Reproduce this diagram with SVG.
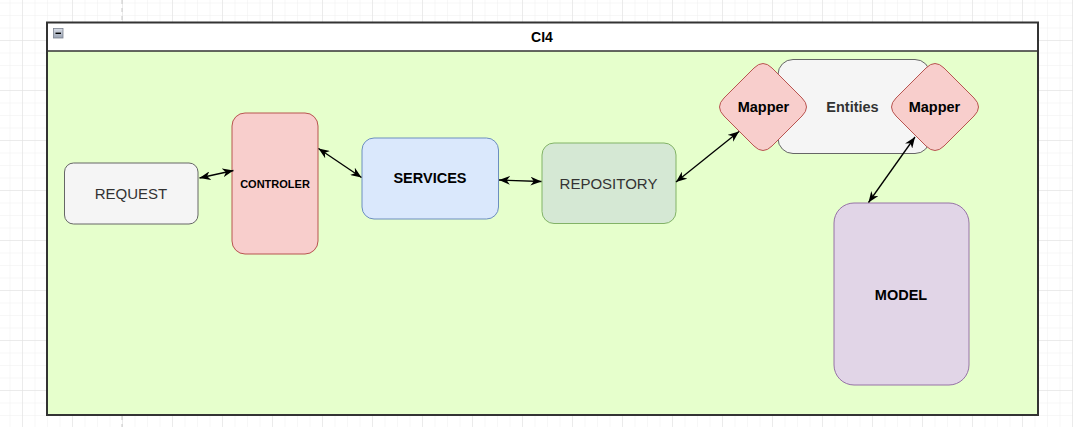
<svg xmlns="http://www.w3.org/2000/svg" width="1073" height="427" viewBox="0 0 1073 427">
<style>
text{font-family:"Liberation Sans",Arial,sans-serif;text-anchor:middle}
.b{font-weight:bold;font-size:14.5px;fill:#000}
.n{font-size:15px;fill:#333}
.edge{stroke:#000;stroke-width:1.3;fill:none;marker-start:url(#arr);marker-end:url(#arr)}
</style>
<defs>
<pattern id="minor" patternUnits="userSpaceOnUse" x="9.5" y="2.5" width="12.5" height="12.5">
<path d="M0,0 V12.5 M0,0 H12.5" stroke="#f0f0f0" stroke-width="1" fill="none"/>
</pattern>
<pattern id="major" patternUnits="userSpaceOnUse" x="22" y="40" width="50" height="50">
<path d="M0,0 V50 M0,0 H50" stroke="#e0e0e0" stroke-width="1" fill="none"/>
</pattern>
<linearGradient id="ic" x1="0" y1="0" x2="0" y2="1">
<stop offset="0" stop-color="#d8dde6"/><stop offset="1" stop-color="#9aa3b3"/>
</linearGradient>
<marker id="arr" viewBox="0 0 10 8" refX="10" refY="4" markerWidth="11" markerHeight="8.8" markerUnits="userSpaceOnUse" orient="auto-start-reverse">
<path d="M0,0 L10,4 L0,8 L3,4 Z" fill="#000"/>
</marker>
</defs>
<rect width="1073" height="427" fill="#fff"/>
<rect width="1073" height="427" fill="url(#minor)"/>
<rect width="1073" height="427" fill="url(#major)"/>
<line x1="122" y1="0" x2="122" y2="427" stroke="#c8c8c8" stroke-dasharray="4,4"/>

<g id="container">
<rect x="47" y="22.5" width="991" height="392.5" fill="#E6FFCC"/>
<rect x="47" y="22.5" width="991" height="28.5" fill="#fff"/>
<line x1="47" y1="51" x2="1038" y2="51" stroke="#333" stroke-width="1.5"/>
<rect x="47" y="22.5" width="991" height="392.5" fill="none" stroke="#333" stroke-width="2"/>
<rect x="53.5" y="28.5" width="9.5" height="9.5" fill="url(#ic)" stroke="#7a8290" stroke-width="0.8"/>
<line x1="55.5" y1="33.3" x2="61" y2="33.3" stroke="#000" stroke-width="1.4"/>
<text x="542" y="41.5" class="b" style="font-size:14px">CI4</text>
</g>

<g id="request">
<rect x="64.5" y="163" width="133.5" height="61" rx="9" fill="#f5f5f5" stroke="#666"/>
<text x="131" y="198.5" class="n">REQUEST</text>
</g>

<g id="controler">
<rect x="232" y="113" width="86" height="141" rx="13" fill="#f8cecc" stroke="#b85450"/>
<text x="275" y="188" style="font-weight:bold;font-size:11px;fill:#000">CONTROLER</text>
</g>

<g id="services">
<rect x="362" y="138" width="136.5" height="81" rx="12" fill="#dae8fc" stroke="#6c8ebf"/>
<text x="430" y="183" class="b">SERVICES</text>
</g>

<g id="repository">
<rect x="542" y="143" width="134" height="80.5" rx="12" fill="#d5e8d4" stroke="#82b366"/>
<text x="608.5" y="188.5" class="n">REPOSITORY</text>
</g>

<g id="entities">
<rect x="778" y="59.5" width="152" height="94" rx="15" fill="#f5f5f5" stroke="#666"/>
<text x="852.5" y="112" class="b" style="fill:#333">Entities</text>
</g>

<g id="mapper-left">
<path d="M754,68 Q763,59 772,68 L802,98 Q811,107 802,116 L772,146 Q763,155 754,146 L724,116 Q715,107 724,98 Z" fill="#f8cecc" stroke="#b85450"/>
<text x="763.5" y="112" class="b">Mapper</text>
</g>

<g id="mapper-right">
<path d="M926,68 Q935,59 944,68 L974,98 Q983,107 974,116 L944,146 Q935,155 926,146 L896,116 Q887,107 896,98 Z" fill="#f8cecc" stroke="#b85450"/>
<text x="934.5" y="112" class="b">Mapper</text>
</g>

<g id="model">
<rect x="834" y="203" width="135" height="182" rx="20" fill="#e1d5e7" stroke="#9673a6"/>
<text x="901" y="300" class="b">MODEL</text>
</g>

<g id="connectors">
<line class="edge" x1="199.5" y1="178" x2="233.5" y2="170.5"/>
<line class="edge" x1="318.5" y1="148.5" x2="361.5" y2="177.5"/>
<line class="edge" x1="499" y1="180" x2="541.5" y2="181.5"/>
<line class="edge" x1="676" y1="182" x2="739" y2="131.5"/>
<line class="edge" x1="915" y1="137" x2="868.5" y2="202.5"/>
</g>
</svg>
